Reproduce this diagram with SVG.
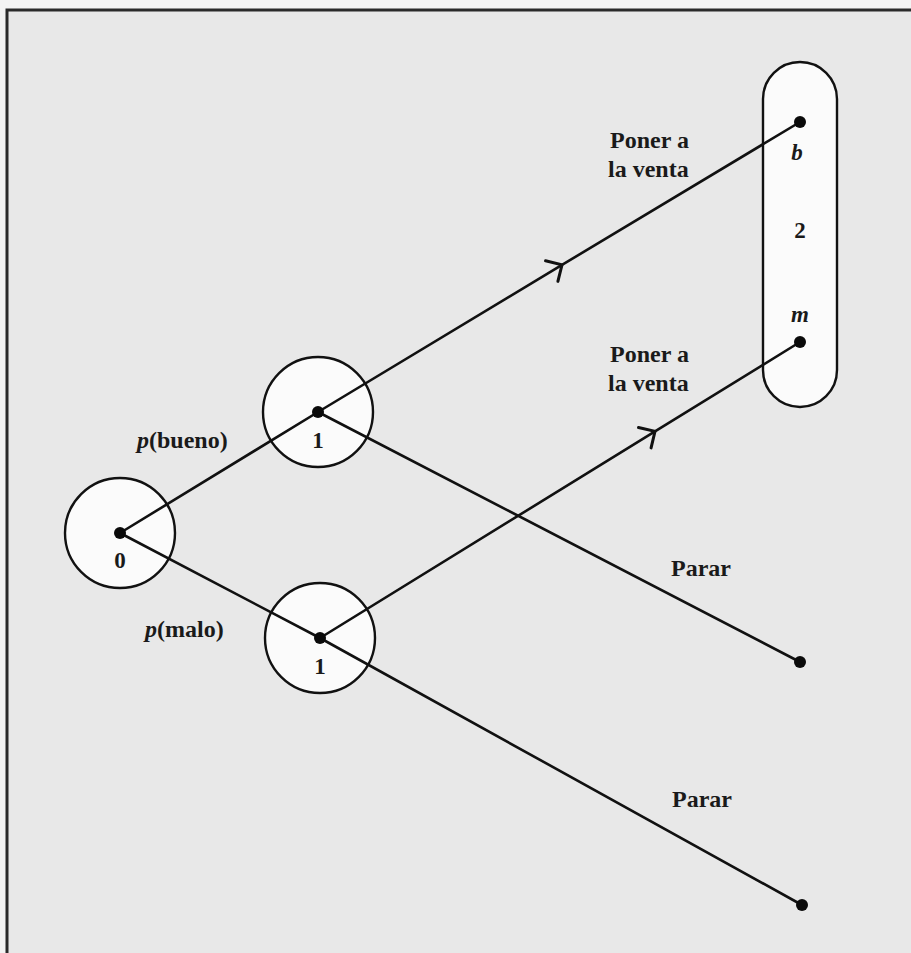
<svg xmlns="http://www.w3.org/2000/svg" width="911" height="953" viewBox="0 0 911 953">
  <style>
    .edge { fill: none; stroke: #111; stroke-width: 2.6; stroke-linecap: round; }
    .ring { fill: #fbfbfb; stroke: #111; stroke-width: 2.4; }
    .dot { fill: #0a0a0a; }
    .lbl { font-family: "Liberation Serif", "Times New Roman", serif; font-weight: bold; font-size: 24px; fill: #1a1a1a; }
    .num { text-anchor: middle; font-size: 23px; }
    .it { font-style: italic; }
  </style>
  <defs>
    <marker id="chev" markerUnits="userSpaceOnUse" markerWidth="40" markerHeight="40" viewBox="-20 -20 40 40" refX="0" refY="0" orient="auto" overflow="visible">
      <path d="M-12,-12 L0,0 L-12,12" fill="none" stroke="#111" stroke-width="3" stroke-linecap="round" stroke-linejoin="miter"/>
    </marker>
  </defs>

  <!-- page and frame -->
  <rect x="0" y="0" width="911" height="953" fill="#f3f3f3"/>
  <rect x="7" y="10" width="910" height="950" fill="#e8e8e8"/>
  <path d="M7,953 L7,10 L911,10" fill="none" stroke="#2a2a2a" stroke-width="3"/>

  <!-- information set of player 2 -->
  <g id="infoset2">
    <rect x="763" y="62" width="74" height="345" rx="37" ry="37" class="ring"/>
    <text x="797" y="160" class="lbl num it">b</text>
    <text x="800" y="238" class="lbl num">2</text>
    <text x="800" y="322" class="lbl num it">m</text>
  </g>

  <!-- decision nodes -->
  <g id="node0">
    <circle cx="120" cy="533" r="55" class="ring"/>
    <text x="120" y="568" class="lbl num">0</text>
  </g>
  <g id="node1-bueno">
    <circle cx="318" cy="412" r="55" class="ring"/>
    <text x="318" y="448" class="lbl num">1</text>
  </g>
  <g id="node1-malo">
    <circle cx="320" cy="638" r="55" class="ring"/>
    <text x="320" y="674" class="lbl num">1</text>
  </g>

  <!-- branches -->
  <g id="connectors">
    <path class="edge" d="M120,533 L318,412"/>
    <path class="edge" d="M120,533 L320,638"/>
    <path class="edge" d="M318,412 L562,264.9 L800,122" marker-mid="url(#chev)"/>
    <path class="edge" d="M320,638 L655,431.4 L800,342" marker-mid="url(#chev)"/>
    <path class="edge" d="M318,412 L800,662"/>
    <path class="edge" d="M320,638 L802,905"/>
  </g>

  <!-- node points -->
  <g id="points">
    <circle cx="120" cy="533" r="6" class="dot"/>
    <circle cx="318" cy="412" r="6" class="dot"/>
    <circle cx="320" cy="638" r="6" class="dot"/>
    <circle cx="800" cy="122" r="6" class="dot"/>
    <circle cx="800" cy="342" r="6" class="dot"/>
    <circle cx="800" cy="662" r="6" class="dot"/>
    <circle cx="802" cy="905" r="6" class="dot"/>
  </g>

  <!-- branch labels -->
  <g id="labels">
    <text x="137" y="448" class="lbl"><tspan class="it">p</tspan>(bueno)</text>
    <text x="145" y="637" class="lbl"><tspan class="it">p</tspan>(malo)</text>
    <text x="610" y="148" class="lbl">Poner a</text>
    <text x="608" y="177" class="lbl">la venta</text>
    <text x="610" y="362" class="lbl">Poner a</text>
    <text x="608" y="391" class="lbl">la venta</text>
    <text x="671" y="576" class="lbl">Parar</text>
    <text x="672" y="807" class="lbl">Parar</text>
  </g>
</svg>
